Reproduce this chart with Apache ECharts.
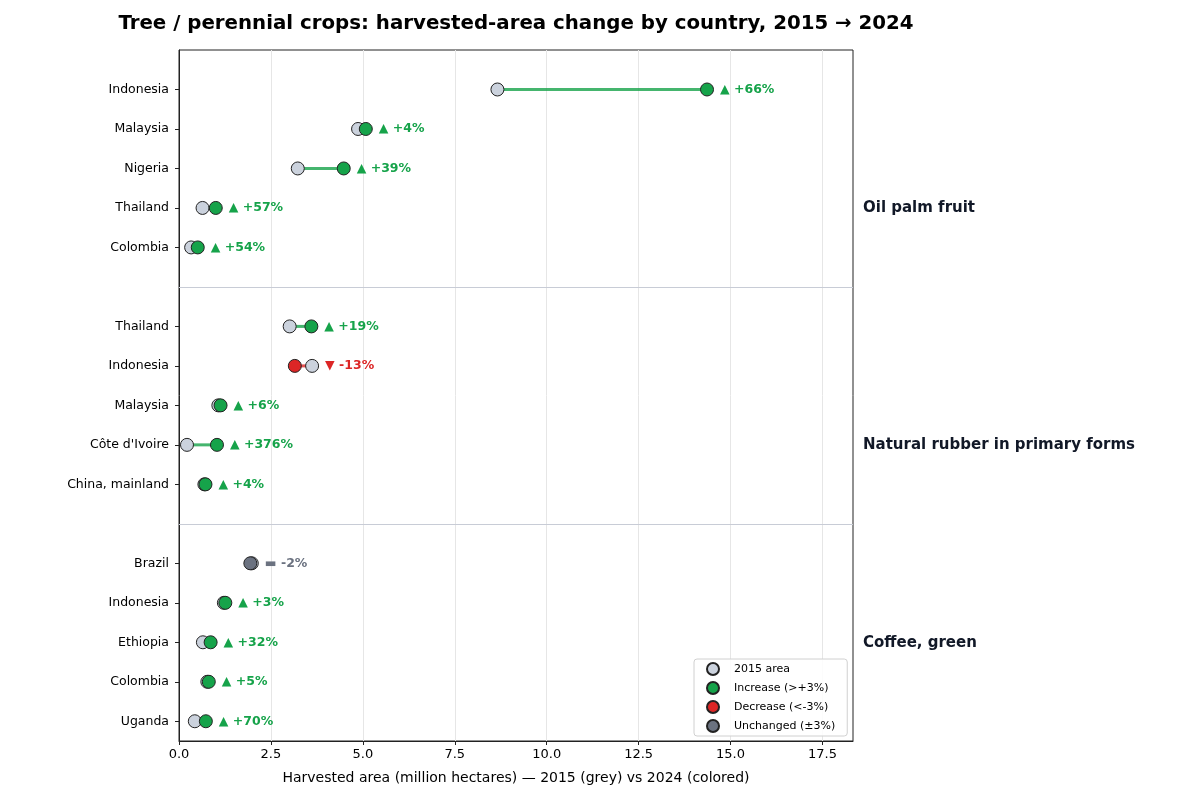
<!DOCTYPE html>
<html>
<head>
<meta charset="utf-8">
<script src="https://cdn.jsdelivr.net/npm/echarts@6/dist/echarts.min.js"></script>
<style>
  html, body { margin: 0; padding: 0; background: #fff; }
  #chart { width: 1200px; height: 800px; }
</style>
</head>
<body>
<div id="chart"></div>
<script>
// Oil palm fruit
const oilPalmCountries = ['Indonesia', 'Malaysia', 'Nigeria', 'Thailand', 'Colombia'];
const oilPalm2015 = [8.66, 4.87, 3.23, 0.64, 0.33];
const oilPalm2024 = [14.36, 5.08, 4.48, 1.00, 0.51];
const oilPalmPct = [66, 4, 39, 57, 54];

// Natural rubber in primary forms
const rubberCountries = ['Thailand', 'Indonesia', 'Malaysia', "Côte d'Ivoire", 'China, mainland'];
const rubber2015 = [3.01, 3.62, 1.07, 0.217, 0.69];
const rubber2024 = [3.60, 3.15, 1.13, 1.033, 0.72];
const rubberPct = [19, -13, 6, 376, 4];

// Coffee, green
const coffeeCountries = ['Brazil', 'Indonesia', 'Ethiopia', 'Colombia', 'Uganda'];
const coffee2015 = [1.98, 1.22, 0.65, 0.77, 0.43];
const coffee2024 = [1.94, 1.26, 0.86, 0.81, 0.73];
const coffeePct = [-2, 3, 32, 5, 70];

const groupNames = ['Oil palm fruit', 'Natural rubber in primary forms', 'Coffee, green'];
const xTicks = [0, 2.5, 5, 7.5, 10, 12.5, 15, 17.5];

const COLORS = {
  base: '#cbd2dd',
  up: '#16a34a',
  down: '#dc2626',
  same: '#6b7280'
};
const FONT = 'DejaVu Sans';

// build rows: 5 per group, one blank row between groups
const groups = [
  [oilPalmCountries, oilPalm2015, oilPalm2024, oilPalmPct],
  [rubberCountries, rubber2015, rubber2024, rubberPct],
  [coffeeCountries, coffee2015, coffee2024, coffeePct]
];
const rows = [];
groups.forEach((g, gi) => {
  g[0].forEach((name, i) => {
    const v15 = g[1][i], v24 = g[2][i];
    const ch = v24 / v15 - 1;
    const status = ch > 0.03 ? 'up' : (ch < -0.03 ? 'down' : 'same');
    rows.push({ row: gi * 6 + i, name, v15, v24, pct: g[3][i], status });
  });
});
const rowNames = {};
rows.forEach(r => { rowNames[r.row] = r.name; });
const rowValues = rows.map(r => r.row);

function pctText(r) {
  const sym = r.status === 'up' ? '▲' : (r.status === 'down' ? '▼' : '▬');
  const num = r.pct > 0 ? '+' + r.pct : String(r.pct);
  return sym + ' ' + num + '%';
}

function markerStyle(color) {
  return { color: color, borderColor: '#222', borderWidth: 1, opacity: 1 };
}

const chart = echarts.init(document.getElementById('chart'));
chart.setOption({
  animation: false,
  title: {
    text: 'Tree / perennial crops: harvested-area change by country, 2015 → 2024',
    left: 511, top: 9, textAlign: 'center',
    textStyle: { fontFamily: FONT, fontSize: 19.8, fontWeight: 'bold', color: '#000' }
  },
  grid: {
    left: 179, right: 347, top: 50, bottom: 59,
    show: true, borderColor: '#222', borderWidth: 1
  },
  legend: {
    orient: 'vertical',
    left: 694, top: 659,
    itemWidth: 12, itemHeight: 12, itemGap: 5,
    padding: [3, 12],
    borderColor: '#d0d0d0', borderWidth: 1, borderRadius: 3,
    backgroundColor: 'rgba(255,255,255,0.85)',
    icon: 'circle',
    textStyle: { fontFamily: FONT, fontSize: 11, lineHeight: 12, color: '#000', padding: [0, 0, 0, 10] },
    data: ['2015 area', 'Increase (>+3%)', 'Decrease (<-3%)', 'Unchanged (±3%)']
  },
  xAxis: {
    type: 'value', min: 0, max: 18.33, interval: 2.5,
    name: 'Harvested area (million hectares) — 2015 (grey) vs 2024 (colored)',
    nameLocation: 'middle', nameGap: 30,
    nameTextStyle: { fontFamily: FONT, fontSize: 14, color: '#000' },
    axisLine: { show: true, onZero: false, lineStyle: { color: '#222' } },
    axisTick: { show: true, length: 4, customValues: xTicks, lineStyle: { color: '#222' } },
    axisLabel: {
      fontFamily: FONT, fontSize: 13, color: '#000', margin: 7,
      customValues: xTicks,
      formatter: v => v.toFixed(1)
    },
    splitLine: { show: true, lineStyle: { color: '#e6e6e6', width: 1 } }
  },
  yAxis: {
    type: 'value', inverse: true, min: -1, max: 16.5,
    axisLine: { show: true, onZero: false, lineStyle: { color: '#222' } },
    axisTick: { show: true, length: 4, customValues: rowValues, lineStyle: { color: '#222' } },
    axisLabel: {
      fontFamily: FONT, fontSize: 12.5, color: '#000', margin: 10,
      customValues: rowValues,
      formatter: v => rowNames[v] || ''
    },
    splitLine: { show: false }
  },
  graphic: groupNames.map((t, i) => ({
    type: 'text', left: 863, top: [207, 444, 642][i] - 6,
    style: { text: t, font: 'bold 15px "DejaVu Sans"', fill: '#111827' }
  })),
  series: [
    {
      type: 'custom',
      name: 'links',
      z: 1,
      encode: { x: [1, 2], y: 0 },
      data: rows.map(r => [r.row, r.v15, r.v24]),
      renderItem: function (params, api) {
        const r = rows[params.dataIndex];
        const p1 = api.coord([r.v15, r.row]);
        const p2 = api.coord([r.v24, r.row]);
        const pm = api.coord([Math.max(r.v15, r.v24), r.row]);
        const c = COLORS[r.status];
        return {
          type: 'group',
          children: [
            {
              type: 'line',
              shape: { x1: p1[0], y1: p1[1], x2: p2[0], y2: p2[1] },
              style: { stroke: c, lineWidth: 3, opacity: 0.8 }
            },
            {
              type: 'text',
              x: pm[0] + 13, y: pm[1],
              style: {
                text: pctText(r), fill: c,
                font: 'bold 12.5px "DejaVu Sans"',
                verticalAlign: 'middle', align: 'left'
              }
            }
          ]
        };
      },
      markLine: {
        silent: true, symbol: 'none', label: { show: false },
        lineStyle: { color: '#c8ccd6', width: 1, type: 'solid' },
        data: [{ yAxis: 5 }, { yAxis: 11 }]
      }
    },
    {
      type: 'scatter', name: '2015 area', z: 3,
      symbolSize: 13,
      itemStyle: markerStyle(COLORS.base),
      data: rows.map(r => [r.v15, r.row])
    },
    {
      type: 'scatter', name: 'Increase (>+3%)', z: 4,
      symbolSize: 13,
      itemStyle: markerStyle(COLORS.up),
      data: rows.filter(r => r.status === 'up').map(r => [r.v24, r.row])
    },
    {
      type: 'scatter', name: 'Decrease (<-3%)', z: 4,
      symbolSize: 13,
      itemStyle: markerStyle(COLORS.down),
      data: rows.filter(r => r.status === 'down').map(r => [r.v24, r.row])
    },
    {
      type: 'scatter', name: 'Unchanged (±3%)', z: 4,
      symbolSize: 13,
      itemStyle: markerStyle(COLORS.same),
      data: rows.filter(r => r.status === 'same').map(r => [r.v24, r.row])
    }
  ]
});
</script>
</body>
</html>
